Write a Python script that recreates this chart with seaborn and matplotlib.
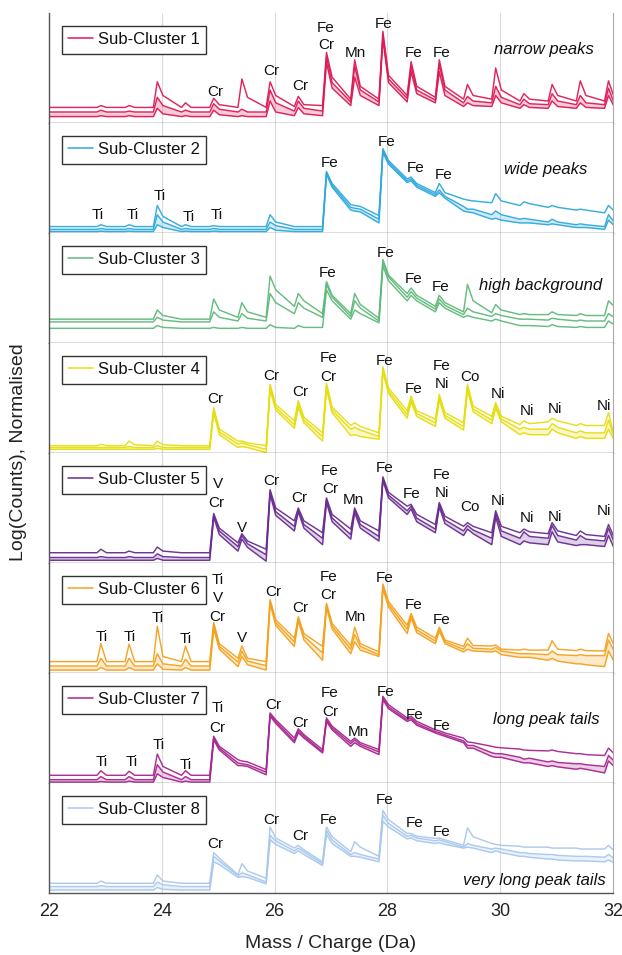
import matplotlib
matplotlib.use("Agg")
import matplotlib.pyplot as plt
import pandas as pd
import seaborn as sns
from matplotlib.lines import Line2D

sns.set_theme(style="white")
plt.rcParams['font.family'] = ['Liberation Sans', 'DejaVu Sans']

# ---------------- data ----------------
PEAK_MZ = [22.92, 23.42, 23.92, 24.42, 24.92, 25.42, 25.92, 26.42, 26.92, 27.42,
           27.92, 28.42, 28.92, 29.42, 29.92, 30.42, 30.92, 31.42, 31.92]
X_TICKS = [22, 24, 26, 28, 30, 32]
CLUSTER_NAMES = ["Sub-Cluster 1", "Sub-Cluster 2", "Sub-Cluster 3", "Sub-Cluster 4",
                 "Sub-Cluster 5", "Sub-Cluster 6", "Sub-Cluster 7", "Sub-Cluster 8"]
COLORS = ["#DE1A55", "#2EA9DD", "#5FB97A", "#E6DE0E",
          "#6A2C91", "#F5A11C", "#A8268F", "#A9C8EC"]
LINE_NAMES = ["high", "mid", "low"]
# whether the mid/low traces form one dense bundle (shaded) in each panel
DENSE_BUNDLE = [True, True, False, True, True, True, True, True]

# per cluster: peak tops, values just before each peak (valley), values just after (shoulder)
C1_TOP = [[0.95, 0.95, 2.25, 1.1, 1.35, 2.4, 2.25, 1.45, 3.85, 3.45, 5.0, 3.35, 3.45, 2.1, 3.0, 1.6, 2.1, 2.3, 2.3],
          [0.7, 0.65, 1.4, 0.7, 1.05, 0.75, 1.8, 1.2, 3.6, 3.1, 4.8, 3.1, 3.2, 1.45, 2.0, 1.3, 1.6, 1.5, 1.9],
          [0.4, 0.4, 0.8, 0.4, 0.7, 0.4, 1.2, 0.85, 3.3, 2.5, 4.55, 2.8, 2.8, 1.1, 1.5, 1.0, 1.2, 1.1, 1.5]]
C1_VAL = [[0.85, 0.85, 0.85, 0.85, 0.85, 0.85, 0.85, 0.9, 0.95, 1.3, 1.3, 1.5, 1.4, 1.3, 1.3, 1.2, 1.2, 1.2, 1.2],
          [0.6, 0.6, 0.6, 0.6, 0.6, 0.6, 0.6, 0.65, 0.65, 1.15, 1.15, 1.35, 1.25, 1.1, 1.1, 1.0, 1.0, 1.0, 1.0],
          [0.35, 0.35, 0.35, 0.35, 0.35, 0.35, 0.35, 0.4, 0.4, 0.95, 0.95, 1.15, 1.1, 0.9, 0.9, 0.8, 0.8, 0.8, 0.8]]
C1_SHO = [[0.85, 0.85, 1.5, 0.85, 1.0, 1.4, 1.5, 1.0, 2.5, 2.0, 2.6, 2.0, 2.0, 1.5, 1.8, 1.3, 1.5, 1.5, 1.4],
          [0.6, 0.6, 0.95, 0.6, 0.75, 0.6, 1.1, 0.8, 2.2, 1.8, 2.4, 1.8, 1.8, 1.2, 1.4, 1.05, 1.2, 1.1, 1.1],
          [0.35, 0.35, 0.5, 0.35, 0.45, 0.35, 0.6, 0.5, 1.9, 1.5, 2.2, 1.6, 1.5, 0.95, 1.1, 0.85, 0.9, 0.85, 0.9]]

C2_TOP = [[0.45, 0.45, 1.5, 0.45, 0.4, 0.35, 1.0, 0.35, 3.35, 1.5, 4.6, 3.05, 2.7, 1.8, 2.15, 1.7, 1.5, 1.3, 1.5],
          [0.25, 0.25, 1.0, 0.25, 0.25, 0.2, 0.6, 0.2, 3.3, 1.35, 4.5, 2.95, 2.35, 1.3, 1.2, 0.8, 0.75, 0.5, 1.0],
          [0.1, 0.1, 0.45, 0.1, 0.1, 0.08, 0.3, 0.08, 3.2, 1.2, 4.4, 2.85, 2.2, 1.15, 0.8, 0.55, 0.5, 0.3, 0.7]]
C2_VAL = [[0.35, 0.35, 0.35, 0.35, 0.35, 0.35, 0.35, 0.35, 0.35, 1.55, 0.95, 2.95, 2.2, 1.85, 1.65, 1.5, 1.4, 1.25, 1.1],
          [0.2, 0.2, 0.2, 0.2, 0.2, 0.2, 0.2, 0.2, 0.2, 1.4, 0.75, 2.85, 2.1, 1.45, 1.0, 0.75, 0.6, 0.45, 0.35],
          [0.08, 0.08, 0.08, 0.08, 0.08, 0.08, 0.08, 0.08, 0.08, 1.25, 0.55, 2.75, 2.0, 1.2, 0.75, 0.55, 0.45, 0.3, 0.2]]
C2_SHO = [[0.35, 0.35, 0.9, 0.35, 0.35, 0.35, 0.6, 0.35, 2.7, 1.45, 3.95, 2.7, 2.2, 1.75, 1.75, 1.6, 1.4, 1.25, 1.2],
          [0.2, 0.2, 0.6, 0.2, 0.2, 0.2, 0.4, 0.2, 2.6, 1.3, 3.85, 2.6, 2.0, 1.3, 1.0, 0.75, 0.6, 0.45, 0.6],
          [0.08, 0.08, 0.3, 0.08, 0.08, 0.08, 0.15, 0.08, 2.5, 1.15, 3.75, 2.5, 1.9, 1.1, 0.7, 0.55, 0.45, 0.3, 0.4]]

C3_TOP = [[1.3, 1.3, 1.8, 1.3, 2.4, 2.2, 3.65, 2.7, 3.35, 2.7, 4.55, 3.0, 2.6, 3.2, 2.1, 1.6, 1.7, 1.6, 2.3],
          [1.15, 1.15, 1.4, 1.15, 1.7, 1.6, 2.7, 2.2, 3.2, 2.3, 4.4, 2.8, 2.4, 1.9, 1.6, 1.3, 1.35, 1.25, 1.6],
          [0.8, 0.8, 0.95, 0.8, 0.85, 0.85, 1.0, 0.95, 2.9, 1.8, 4.2, 2.6, 2.2, 1.5, 1.3, 0.95, 1.0, 0.9, 1.2]]
C3_VAL = [[1.3, 1.3, 1.3, 1.3, 1.3, 1.4, 1.4, 2.0, 1.6, 1.6, 1.35, 2.7, 2.0, 1.7, 1.65, 1.55, 1.55, 1.5, 1.5],
          [1.15, 1.15, 1.15, 1.15, 1.15, 1.2, 1.2, 1.6, 1.4, 1.45, 1.2, 2.5, 1.85, 1.55, 1.45, 1.3, 1.25, 1.2, 1.2],
          [0.8, 0.8, 0.8, 0.8, 0.8, 0.8, 0.8, 0.8, 0.85, 1.3, 1.1, 2.3, 1.7, 1.4, 1.2, 0.95, 0.9, 0.85, 0.85]]
C3_SHO = [[1.3, 1.3, 1.5, 1.3, 1.8, 1.7, 2.9, 2.3, 2.6, 2.1, 3.7, 2.6, 2.2, 2.3, 1.8, 1.55, 1.55, 1.5, 2.0],
          [1.15, 1.15, 1.25, 1.15, 1.4, 1.35, 2.2, 1.9, 2.5, 1.9, 3.6, 2.45, 2.05, 1.7, 1.5, 1.3, 1.3, 1.2, 1.4],
          [0.8, 0.8, 0.85, 0.8, 0.8, 0.8, 0.85, 0.85, 2.3, 1.6, 3.4, 2.3, 1.9, 1.4, 1.2, 0.95, 0.9, 0.85, 1.0]]

C4_TOP = [[0.47, 0.65, 0.65, 0.4, 2.47, 0.65, 3.75, 2.85, 3.8, 1.65, 4.7, 3.1, 3.2, 3.75, 2.75, 1.75, 1.9, 1.6, 2.2],
          [0.3, 0.35, 0.4, 0.3, 2.35, 0.55, 3.6, 2.7, 3.65, 1.4, 4.55, 2.95, 3.05, 3.6, 2.6, 1.4, 1.6, 1.2, 1.8],
          [0.2, 0.2, 0.25, 0.2, 2.2, 0.35, 3.45, 2.5, 3.5, 1.0, 4.4, 2.8, 2.9, 3.45, 2.45, 1.1, 1.3, 0.9, 1.3]]
C4_VAL = [[0.4, 0.4, 0.4, 0.4, 0.4, 0.65, 0.4, 1.75, 1.1, 1.5, 1.1, 2.3, 1.85, 1.65, 2.0, 1.55, 1.7, 1.5, 1.5],
          [0.3, 0.3, 0.3, 0.3, 0.3, 0.5, 0.2, 1.55, 0.9, 1.3, 0.9, 2.1, 1.65, 1.45, 1.8, 1.3, 1.3, 1.1, 1.1],
          [0.2, 0.2, 0.2, 0.2, 0.2, 0.3, 0.02, 1.35, 0.65, 0.95, 0.75, 1.9, 1.45, 1.25, 1.6, 1.0, 1.0, 0.8, 0.8]]
C4_SHO = [[0.4, 0.45, 0.45, 0.4, 1.3, 0.55, 2.65, 1.95, 2.5, 1.45, 3.55, 2.3, 2.2, 2.55, 2.0, 1.6, 1.75, 1.5, 0.95],
          [0.3, 0.3, 0.3, 0.3, 1.15, 0.45, 2.5, 1.8, 2.35, 1.25, 3.4, 2.15, 2.05, 2.4, 1.85, 1.3, 1.4, 1.1, 0.85],
          [0.2, 0.2, 0.2, 0.2, 1.0, 0.3, 2.35, 1.65, 2.2, 0.9, 3.25, 2.0, 1.9, 2.25, 1.7, 1.0, 1.1, 0.8, 0.7]]

C5_TOP = [[0.75, 0.65, 0.87, 0.56, 2.7, 1.6, 4.0, 3.0, 3.55, 3.0, 4.7, 3.2, 3.3, 2.2, 2.85, 1.85, 2.2, 1.75, 2.1],
          [0.35, 0.35, 0.5, 0.3, 2.6, 1.5, 3.9, 2.9, 3.45, 2.9, 4.6, 3.1, 3.2, 2.05, 2.7, 1.7, 2.05, 1.5, 1.9],
          [0.15, 0.15, 0.25, 0.15, 2.5, 1.3, 3.75, 2.8, 3.3, 2.75, 4.5, 2.95, 3.05, 1.85, 2.5, 1.2, 1.7, 1.0, 1.5]]
C5_VAL = [[0.56, 0.56, 0.56, 0.56, 0.56, 1.1, 0.75, 2.3, 1.65, 1.85, 1.75, 3.1, 2.1, 2.0, 1.65, 1.65, 1.6, 1.5, 1.45],
          [0.3, 0.3, 0.3, 0.3, 0.3, 0.9, 0.45, 2.0, 1.35, 1.55, 1.45, 2.85, 1.85, 1.75, 1.35, 1.35, 1.35, 1.25, 1.2],
          [0.15, 0.15, 0.15, 0.15, 0.15, 0.65, 0.1, 1.75, 1.0, 1.3, 1.2, 2.65, 1.65, 1.5, 1.0, 1.0, 1.0, 0.95, 0.9]]
C5_SHO = [[0.56, 0.56, 0.65, 0.56, 1.9, 1.2, 3.0, 2.3, 2.65, 2.3, 3.85, 2.65, 2.55, 2.0, 2.0, 1.7, 1.75, 1.55, 1.4],
          [0.3, 0.3, 0.35, 0.3, 1.75, 1.05, 2.8, 2.1, 2.45, 2.1, 3.7, 2.45, 2.35, 1.8, 1.75, 1.45, 1.5, 1.3, 1.15],
          [0.15, 0.15, 0.15, 0.15, 1.55, 0.85, 2.6, 1.9, 2.25, 1.9, 3.55, 2.25, 2.15, 1.6, 1.45, 1.1, 1.15, 1.0, 0.8]]

C6_TOP = [[1.6, 1.58, 2.55, 1.47, 2.75, 1.47, 4.0, 3.07, 3.8, 2.5, 4.85, 3.25, 2.5, 1.9, 1.53, 1.3, 1.76, 1.3, 2.16],
          [0.8, 0.8, 1.05, 0.75, 2.6, 1.2, 3.9, 2.95, 3.7, 2.1, 4.75, 3.15, 2.4, 1.6, 1.4, 1.05, 1.2, 1.0, 1.8],
          [0.3, 0.3, 0.5, 0.3, 2.4, 0.9, 3.8, 2.85, 3.6, 1.7, 4.6, 3.0, 2.3, 1.3, 1.2, 0.85, 0.8, 0.5, 1.2]]
C6_VAL = [[0.62, 0.62, 0.62, 0.62, 0.62, 0.8, 0.62, 1.9, 1.45, 1.5, 1.15, 2.6, 1.9, 1.45, 1.47, 1.25, 1.25, 1.22, 1.2],
          [0.38, 0.38, 0.38, 0.38, 0.38, 0.6, 0.4, 1.7, 1.1, 1.3, 1.0, 2.4, 1.75, 1.3, 1.3, 1.05, 1.0, 0.95, 0.95],
          [0.16, 0.16, 0.16, 0.16, 0.16, 0.35, 0.16, 1.45, 0.7, 1.05, 0.9, 2.15, 1.6, 1.15, 1.15, 0.85, 0.7, 0.5, 0.35]]
C6_SHO = [[0.62, 0.62, 0.9, 0.62, 1.6, 0.8, 2.9, 2.15, 2.7, 1.6, 3.9, 2.5, 1.8, 1.5, 1.3, 1.25, 1.3, 1.22, 1.5],
          [0.38, 0.38, 0.5, 0.38, 1.45, 0.65, 2.75, 2.0, 2.55, 1.45, 3.75, 2.35, 1.7, 1.35, 1.2, 1.05, 1.0, 0.95, 1.2],
          [0.16, 0.16, 0.2, 0.16, 1.3, 0.45, 2.6, 1.8, 2.4, 1.25, 3.6, 2.2, 1.6, 1.2, 1.0, 0.85, 0.65, 0.45, 0.6]]

C7_TOP = [[0.67, 0.64, 1.58, 0.67, 2.55, 1.2, 3.82, 2.96, 3.55, 2.45, 4.73, 3.64, 2.85, 2.24, 1.95, 1.8, 1.8, 1.6, 1.9],
          [0.35, 0.35, 1.0, 0.35, 2.45, 1.05, 3.75, 2.85, 3.45, 2.35, 4.65, 3.55, 2.75, 2.05, 1.6, 1.3, 1.2, 1.05, 1.5],
          [0.08, 0.1, 0.5, 0.1, 2.35, 0.95, 3.65, 2.75, 3.35, 2.2, 4.55, 3.45, 2.65, 1.9, 1.4, 1.1, 0.95, 0.8, 1.2]]
C7_VAL = [[0.42, 0.42, 0.42, 0.42, 0.42, 1.27, 0.73, 2.45, 1.82, 2.27, 1.82, 3.55, 2.9, 2.45, 2.0, 1.85, 1.75, 1.6, 1.5],
          [0.18, 0.18, 0.18, 0.18, 0.18, 1.1, 0.6, 2.3, 1.7, 2.15, 1.7, 3.45, 2.8, 2.3, 1.65, 1.4, 1.15, 1.05, 0.9],
          [0.05, 0.05, 0.05, 0.05, 0.05, 0.95, 0.45, 2.2, 1.64, 2.0, 1.55, 3.36, 2.73, 2.2, 1.45, 1.15, 0.9, 0.75, 0.55]]
C7_SHO = [[0.42, 0.42, 0.9, 0.42, 2.0, 1.15, 3.45, 2.64, 3.1, 2.2, 4.27, 3.36, 2.73, 2.2, 1.92, 1.78, 1.72, 1.55, 1.6],
          [0.18, 0.18, 0.6, 0.18, 1.9, 1.0, 3.35, 2.55, 3.0, 2.1, 4.15, 3.25, 2.63, 2.05, 1.6, 1.35, 1.12, 1.0, 1.2],
          [0.05, 0.05, 0.3, 0.05, 1.8, 0.9, 3.25, 2.45, 2.9, 2.0, 4.05, 3.15, 2.55, 1.9, 1.4, 1.1, 0.88, 0.75, 0.9]]

C8_TOP = [[0.65, 0.53, 0.98, 0.53, 2.2, 1.6, 3.6, 2.6, 3.6, 2.8, 4.5, 3.25, 3.0, 3.56, 2.65, 2.5, 2.45, 2.4, 2.6],
          [0.4, 0.35, 0.6, 0.35, 2.0, 1.1, 3.15, 2.45, 3.4, 2.2, 4.25, 3.15, 2.9, 2.7, 2.45, 2.2, 2.1, 2.0, 2.1],
          [0.16, 0.16, 0.3, 0.16, 1.7, 0.9, 2.9, 2.3, 3.2, 2.0, 3.9, 3.0, 2.75, 2.5, 2.3, 2.0, 1.85, 1.75, 1.8]]
C8_VAL = [[0.53, 0.53, 0.53, 0.53, 0.53, 1.0, 0.8, 2.45, 1.7, 2.25, 2.0, 3.25, 2.98, 2.6, 2.7, 2.55, 2.5, 2.45, 2.4],
          [0.35, 0.35, 0.35, 0.35, 0.35, 0.95, 0.6, 2.3, 1.6, 2.1, 1.85, 3.1, 2.85, 2.5, 2.4, 2.2, 2.1, 2.0, 1.95],
          [0.16, 0.16, 0.16, 0.16, 0.16, 0.85, 0.5, 2.15, 1.5, 2.0, 1.7, 2.95, 2.7, 2.45, 2.2, 2.0, 1.85, 1.75, 1.7]]
C8_SHO = [[0.53, 0.53, 0.65, 0.53, 1.9, 1.2, 3.0, 2.35, 3.07, 2.5, 4.0, 3.1, 2.9, 3.07, 2.6, 2.5, 2.45, 2.4, 2.3],
          [0.35, 0.35, 0.45, 0.35, 1.75, 1.0, 2.85, 2.25, 2.9, 2.1, 3.8, 3.0, 2.8, 2.6, 2.4, 2.15, 2.05, 2.0, 1.9],
          [0.16, 0.16, 0.2, 0.16, 1.55, 0.85, 2.65, 2.1, 2.7, 1.95, 3.6, 2.85, 2.65, 2.45, 2.2, 1.95, 1.8, 1.75, 1.65]]

# element labels: (m/z, height, text)
C1_LABELS = [(24.94, 1.7, "Cr"), (25.95, 2.84, "Cr"), (26.45, 2.0, "Cr"), (26.91, 5.2, "Fe"),
             (26.91, 4.25, "Cr"), (27.44, 3.8, "Mn"), (27.94, 5.4, "Fe"), (28.47, 3.8, "Fe"),
             (28.96, 3.8, "Fe")]
C2_LABELS = [(22.87, 1.0, "Ti"), (23.49, 1.0, "Ti"), (23.96, 2.0, "Ti"), (24.48, 0.9, "Ti"),
             (24.98, 1.0, "Ti"), (26.98, 3.8, "Fe"), (27.99, 4.95, "Fe"), (28.5, 3.55, "Fe"),
             (28.99, 3.15, "Fe")]
C3_LABELS = [(26.94, 3.8, "Fe"), (27.97, 4.9, "Fe"), (28.47, 3.5, "Fe"), (28.95, 3.05, "Fe")]
C4_LABELS = [(24.94, 2.95, "Cr"), (25.95, 4.2, "Cr"), (26.46, 3.3, "Cr"), (26.96, 5.2, "Fe"),
             (26.96, 4.15, "Cr"), (27.95, 5.0, "Fe"), (28.47, 3.5, "Fe"), (28.96, 4.75, "Fe"),
             (28.96, 3.75, "Ni"), (29.46, 4.15, "Co"), (29.96, 3.2, "Ni"), (30.48, 2.3, "Ni"),
             (30.97, 2.4, "Ni"), (31.84, 2.55, "Ni")]
C5_LABELS = [(25.0, 4.3, "V"), (24.97, 3.25, "Cr"), (25.43, 1.9, "V"), (25.95, 4.5, "Cr"),
             (26.43, 3.55, "Cr"), (26.98, 5.0, "Fe"), (26.98, 4.05, "Cr"), (27.4, 3.45, "Mn"),
             (27.95, 5.2, "Fe"), (28.43, 3.75, "Fe"), (28.96, 4.8, "Fe"), (28.96, 3.8, "Ni"),
             (29.46, 3.05, "Co"), (29.96, 3.4, "Ni"), (30.48, 2.45, "Ni"), (30.97, 2.5, "Ni"),
             (31.84, 2.85, "Ni")]
C6_LABELS = [(22.94, 1.95, "Ti"), (23.43, 1.95, "Ti"), (23.93, 3.0, "Ti"), (24.43, 1.85, "Ti"),
             (24.99, 5.07, "Ti"), (24.99, 4.1, "V"), (24.99, 3.05, "Cr"), (25.42, 1.9, "V"),
             (25.97, 4.4, "Cr"), (26.46, 3.55, "Cr"), (26.96, 5.25, "Fe"), (26.96, 4.25, "Cr"),
             (27.43, 3.05, "Mn"), (27.95, 5.2, "Fe"), (28.47, 3.7, "Fe"), (28.96, 2.9, "Fe")]
C7_LABELS = [(22.94, 1.15, "Ti"), (23.47, 1.15, "Ti"), (23.95, 2.1, "Ti"), (24.43, 1.0, "Ti"),
             (24.99, 4.1, "Ti"), (24.99, 3.0, "Cr"), (25.97, 4.25, "Cr"), (26.46, 3.3, "Cr"),
             (26.98, 4.9, "Fe"), (26.98, 3.85, "Cr"), (27.48, 2.8, "Mn"), (27.97, 4.95, "Fe"),
             (28.48, 3.7, "Fe"), (28.96, 3.1, "Fe")]
C8_LABELS = [(24.94, 2.7, "Cr"), (25.95, 4.0, "Cr"), (26.45, 3.1, "Cr"), (26.96, 4.0, "Fe"),
             (27.95, 5.1, "Fe"), (28.48, 3.8, "Fe"), (28.96, 3.35, "Fe")]

# italic notes: (text, right edge m/z, height)
NOTES = [("narrow peaks", 31.66, 4.0), ("wide peaks", 31.55, 3.45), ("high background", 31.8, 3.15),
         None, None, None, ("long peak tails", 31.77, 3.45), ("very long peak tails", 31.87, 0.7)]

TOPS = [C1_TOP, C2_TOP, C3_TOP, C4_TOP, C5_TOP, C6_TOP, C7_TOP, C8_TOP]
VALS = [C1_VAL, C2_VAL, C3_VAL, C4_VAL, C5_VAL, C6_VAL, C7_VAL, C8_VAL]
SHOS = [C1_SHO, C2_SHO, C3_SHO, C4_SHO, C5_SHO, C6_SHO, C7_SHO, C8_SHO]
LABELS = [C1_LABELS, C2_LABELS, C3_LABELS, C4_LABELS, C5_LABELS, C6_LABELS, C7_LABELS, C8_LABELS]

# ---------------- figure ----------------
W, H = 622, 955
fig = plt.figure(figsize=(W / 100, H / 100), dpi=100)
left_px, right_px = 49, 613
top_px, panel_h = 13, 110

def spectrum_frame(top, val, sho, name):
    xs, ys = [22.0], [val[0]]
    for p, v, t, s in zip(PEAK_MZ, val, top, sho):
        xs += [p - 0.07, p, p + 0.10]
        ys += [v, t, s]
    return pd.DataFrame({"mz": xs, "value": ys, "line": name})

for i in range(8):
    b_px = top_px + panel_h * (i + 1)
    ax = fig.add_axes([left_px / W, (H - b_px) / H, (right_px - left_px) / W, panel_h / H])
    frames = [spectrum_frame(TOPS[i][j], VALS[i][j], SHOS[i][j], LINE_NAMES[j]) for j in range(3)]
    df = pd.concat(frames, ignore_index=True)
    for xg in [24, 26, 28, 30]:
        ax.axvline(xg, color="#DADADA", lw=0.8, zorder=0)
    if DENSE_BUNDLE[i]:
        ax.fill_between(frames[1]["mz"], frames[2]["value"], frames[1]["value"],
                        color=COLORS[i], alpha=0.22, lw=0, zorder=1)
    sns.lineplot(data=df, x="mz", y="value", units="line", estimator=None, sort=False,
                 color=COLORS[i], lw=1.05, alpha=0.95, ax=ax, legend=False, zorder=2)
    ax.set_xlim(22, 32)
    ax.set_ylim(0, 6)
    ax.set_xticks(X_TICKS)
    ax.set_yticks([1, 2, 3, 4, 5, 6])
    ax.set_yticklabels([])
    ax.set_xlabel("")
    ax.set_ylabel("")
    ax.tick_params(axis="both", direction="in", length=4, width=0.8, color="#666666")
    if i < 7:
        ax.set_xticklabels([])
    else:
        ax.tick_params(axis="x", labelsize=13, pad=7, labelcolor="#222222")
    for side in ["left", "bottom"]:
        ax.spines[side].set_color("#555555")
        ax.spines[side].set_linewidth(1.0)
    ax.spines["right"].set_color("#AAAAAA")
    ax.spines["right"].set_linewidth(0.8)
    ax.spines["top"].set_visible(False)
    for (mx, my, txt) in LABELS[i]:
        ax.text(mx, my, txt, ha="center", va="center", fontsize=11, color="#111111", zorder=5)
    if NOTES[i] is not None:
        nt, nx, ny = NOTES[i]
        ax.text(nx, ny, nt, ha="right", va="center", fontsize=12, style="italic",
                color="#111111", zorder=5)
    handle = Line2D([0], [0], color=COLORS[i], lw=1.1)
    leg = ax.legend([handle], [CLUSTER_NAMES[i]], loc="upper left",
                    bbox_to_anchor=(0.023, 0.882), borderaxespad=0, fontsize=12,
                    frameon=True, fancybox=False, framealpha=1, edgecolor="#333333",
                    borderpad=0.38, handlelength=1.5, handletextpad=0.28)
    leg.get_frame().set_linewidth(1.0)
    for t in leg.get_texts():
        t.set_color("#111111")

fig.text(19 / W, 1 - 452 / H, "Log(Counts), Normalised", rotation=90, ha="center",
         va="center", fontsize=14, color="#222222")
fig.text((left_px + right_px) / 2 / W, 1 - 943 / H, "Mass / Charge (Da)", ha="center",
         va="center", fontsize=14, color="#222222")

fig.savefig("out.png", dpi=100)
